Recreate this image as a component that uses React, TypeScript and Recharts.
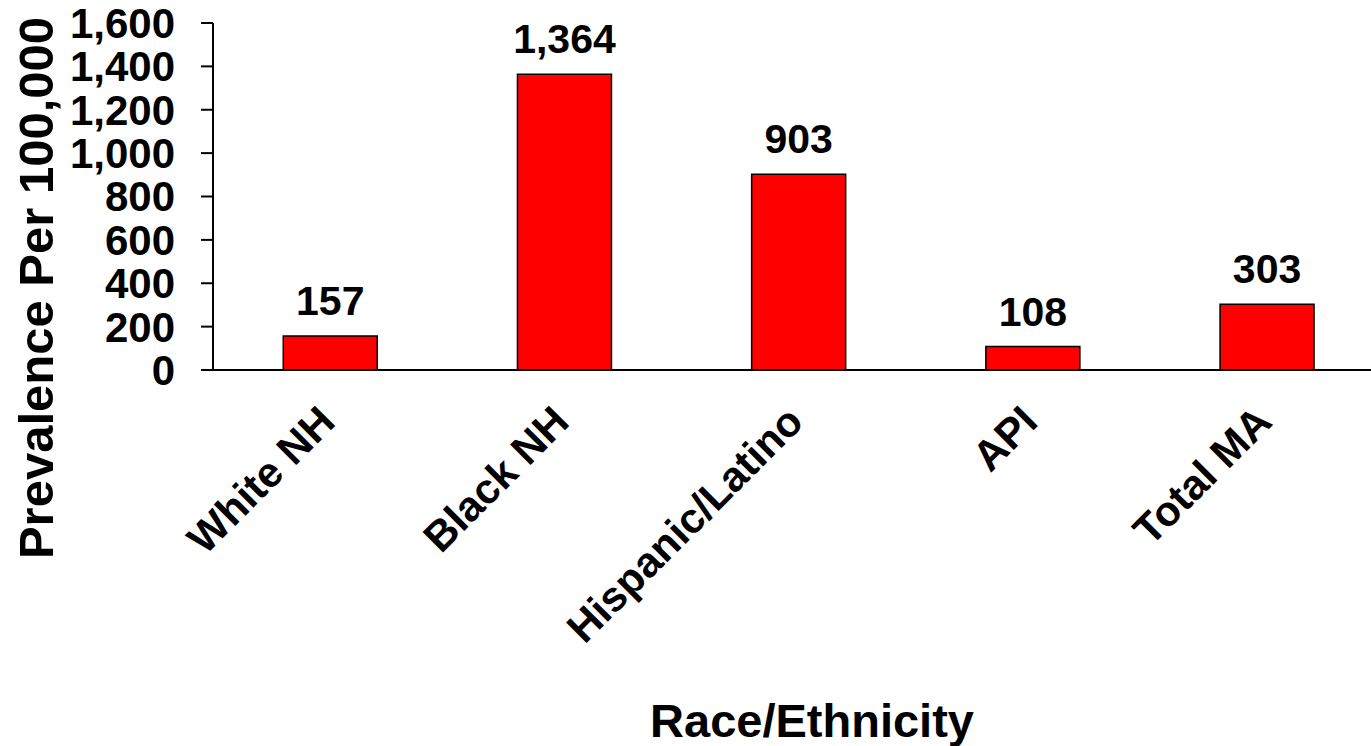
import { BarChart, Bar, XAxis, YAxis, LabelList, Label } from 'recharts'

const categories = ['White NH', 'Black NH', 'Hispanic/Latino', 'API', 'Total MA']
const prevalence = [157, 1364, 903, 108, 303]
const yTicks = [0, 200, 400, 600, 800, 1000, 1200, 1400, 1600]

const data = categories.map((name, i) => ({ name, value: prevalence[i] }))

const FONT = '"Liberation Sans", Arial, Helvetica, sans-serif'
const fmt = (v: number | string) => String(v).replace(/\B(?=(\d{3})+(?!\d))/g, ',')

function CategoryTick({ x, y, payload }: any) {
  return (
    <g transform={`translate(${x + 7},${y + 54})`}>
      <text textAnchor="end" transform="rotate(-45)" fontFamily={FONT} fontWeight="bold" fontSize={42} fill="#000">
        {payload.value}
      </text>
    </g>
  )
}

export default function App() {
  return (
    <div style={{ width: 1371, height: 746, overflow: 'hidden', background: '#fff' }}>
      <style>{'body{margin:0;overflow:hidden}'}</style>
      <BarChart
        width={1390}
        height={746}
        data={data}
        margin={{ top: 23, right: 6, left: 0, bottom: 0 }}
        barCategoryGap="30%"
      >
        <XAxis
          dataKey="name"
          height={376}
          axisLine={{ stroke: '#000', strokeWidth: 2 }}
          tickLine={false}
          tickSize={0}
          tickMargin={0}
          interval={0}
          tick={<CategoryTick />}
        >
          <Label
            content={() => (
              <text x={812} y={737} textAnchor="middle" fontFamily={FONT} fontWeight="bold" fontSize={47} fill="#000">
                Race/Ethnicity
              </text>
            )}
          />
        </XAxis>
        <YAxis
          width={213}
          domain={[0, 1600]}
          ticks={yTicks}
          interval={0}
          tickFormatter={fmt}
          axisLine={{ stroke: '#000', strokeWidth: 2 }}
          tickLine={{ stroke: '#000', strokeWidth: 2 }}
          tickSize={12}
          tickMargin={26}
          tick={{ fontFamily: FONT, fontWeight: 'bold', fontSize: 42, fill: '#000' }}
        >
          <Label
            content={() => (
              <text
                x={53}
                y={288}
                transform="rotate(-90 53 288)"
                textAnchor="middle"
                fontFamily={FONT}
                fontWeight="bold"
                fontSize={49}
                fill="#000"
              >
                Prevalence Per 100,000
              </text>
            )}
          />
        </YAxis>
        <Bar dataKey="value" fill="#FF0000" stroke="#000" strokeWidth={1.5} isAnimationActive={false}>
          <LabelList
            dataKey="value"
            position="top"
            offset={21}
            formatter={(v: any) => fmt(v)}
            style={{ fontFamily: FONT, fontWeight: 'bold', fontSize: 41, fill: '#000' }}
          />
        </Bar>
      </BarChart>
    </div>
  )
}
